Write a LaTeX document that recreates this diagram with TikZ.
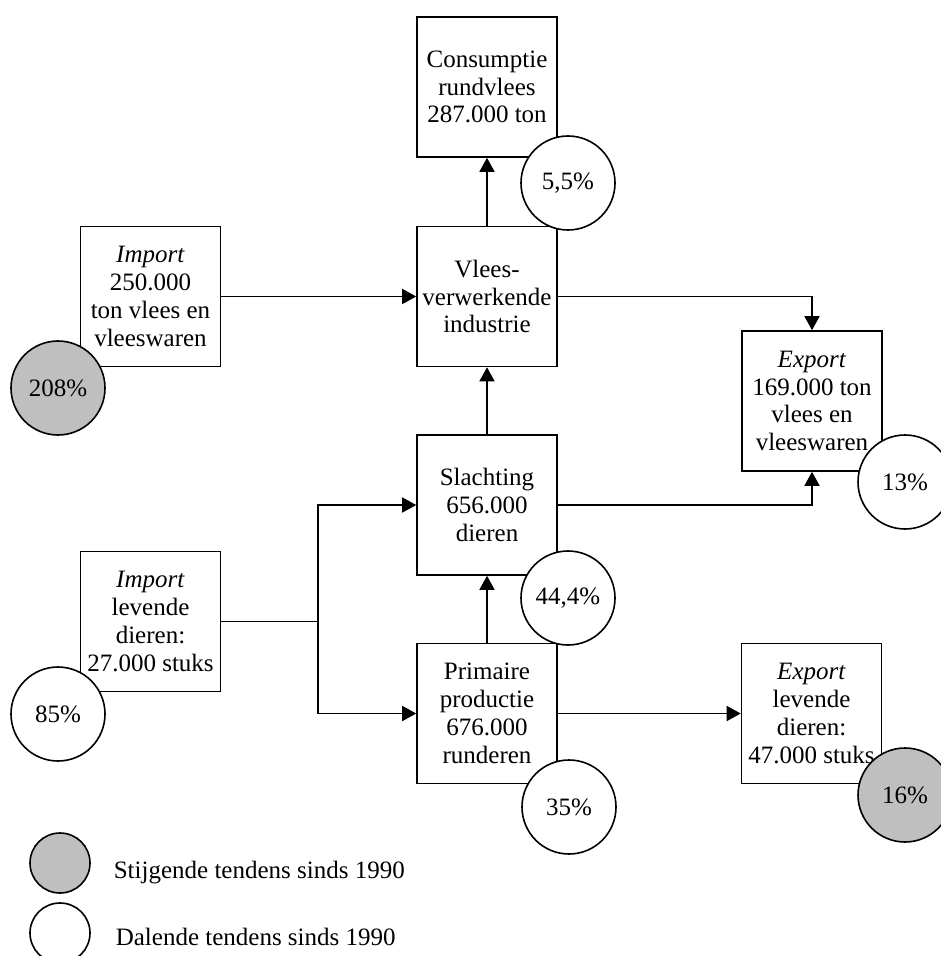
\documentclass[tikz,border=0pt]{standalone}
\usepackage{fontspec}
\setmainfont{Liberation Serif}
\usetikzlibrary{arrows.meta}

\begin{document}
\begin{tikzpicture}[x=0.5pt,y=-0.5pt,line width=0.8pt,>={Triangle[length=7pt,width=7.5pt]},
		font=\fontsize{12.5}{13.9}\selectfont]
		\useasboundingbox (0,0) rectangle (940,956);

		\begin{scope}[every node/.style={rectangle,draw,fill=white,align=center,inner sep=2pt,
				minimum width=70pt,minimum height=70pt}]
			\node (cons) at (487,87) {Consumptie\\rundvlees\\287.000 ton};
			\node (vlees) at (487,296.5) {Vlees-\\verwerkende\\industrie};
			\node (imp1) at (150.5,296.5) {\textit{Import}\\250.000\\ton vlees en\\vleeswaren};
			\node (exp1) at (812,401) {\textit{Export}\\169.000 ton\\vlees en\\vleeswaren};
			\node (slacht) at (487,505) {Slachting\\656.000\\dieren};
			\node (imp2) at (150.5,621.5) {\textit{Import}\\levende\\dieren:\\27.000 stuks};
			\node (prim) at (487,713.5) {Primaire\\productie\\676.000\\runderen};
			\node (exp2) at (811.5,713.5) {\textit{Export}\\levende\\dieren:\\47.000 stuks};
		\end{scope}

		\coordinate (split) at (318,621.5);

		\begin{scope}[every edge/.style={draw=black}]
			\path [->] (vlees) edge (cons);
			\path [->] (imp1) edge (vlees);
			\path [->] (slacht) edge (vlees);
			\path [->] (prim) edge (slacht);
			\path [->] (prim) edge (exp2);
			\path [-] (imp2) edge (split);
		\end{scope}

		\draw [->] (vlees.east) -| (exp1.north);
		\draw [->] (slacht.east) -| (exp1.south);
		\draw [->] (split) |- (slacht.west);
		\draw [->] (split) |- (prim.west);

		% trend circles
		\begin{scope}[every node/.style={circle,draw,fill=white,inner sep=0pt,minimum size=47pt}]
			\node (tcons) at (568,183) {5,5\%};
			\node [fill=black!25] (timp1) at (58,388) {208\%};
			\node (texp1) at (905,482) {13\%};
			\node (tslacht) at (568,598) {44,4\%};
			\node (timp2) at (58,714) {85\%};
			\node (tprim) at (569,807) {35\%};
			\node [fill=black!25] (texp2) at (905,795) {16\%};
		\end{scope}

		% legend
		\node [circle,draw,fill=black!25,minimum size=30pt,inner sep=0pt] (lup) at (60,863) {};
		\node [circle,draw,fill=white,minimum size=30pt,inner sep=0pt] (ldown) at (60,933) {};
		\node [anchor=west,inner sep=0pt] (tup) at (113,873) {Stijgende tendens sinds 1990};
		\node [anchor=west,inner sep=0pt] (tdown) at (115,937) {Dalende tendens sinds 1990};

	\end{tikzpicture}
\end{document}
